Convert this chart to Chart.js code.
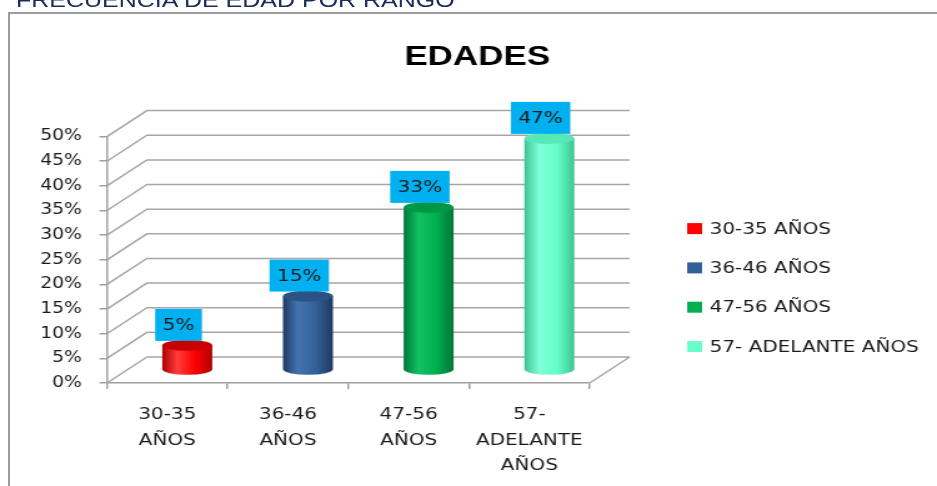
<!DOCTYPE html>
<html lang="es">
<head>
<meta charset="utf-8">
<title>Edades</title>
<script src="https://cdn.jsdelivr.net/npm/chart.js@4.4.1/dist/chart.umd.min.js"></script>
<style>
    html, body { margin: 0; padding: 0; background: #fff; overflow: hidden; }
    body { width: 937px; height: 486px; position: relative; }
    #marco {
        position: absolute; left: 8px; top: 12px; width: 1000px; height: 1000px;
        border-left: 2px solid #9c9c9c; border-top: 2px solid #9c9c9c;
    }
    /* el original esta estirado a lo ancho */
    #lienzo {
        position: absolute; left: 0; top: 0; width: 750px; height: 486px;
        transform: scaleX(1.2493); transform-origin: 0 0;
    }
    #encabezado {
        position: absolute; left: 12.8px; top: -11px; line-height: 20px;
        font: 20px "Liberation Sans", Arial, sans-serif; color: #1f2a5c; white-space: nowrap;
    }
</style>
</head>
<body>
<div id="marco"></div>
<div id="lienzo">
    <div id="encabezado">FRECUENCIA DE EDAD POR RANGO</div>
    <canvas id="grafico"></canvas>
</div>
<script>
// Datos del grafico
const categorias = [['30-35', 'AÑOS'], ['36-46', 'AÑOS'], ['47-56', 'AÑOS'], ['57-', 'ADELANTE', 'AÑOS']];
const series = ['30-35 AÑOS', '36-46 AÑOS', '47-56 AÑOS', '57- ADELANTE AÑOS'];
const porcentajes = [5, 15, 33, 47];
const marcasY = [0, 5, 10, 15, 20, 25, 30, 35, 40, 45, 50];

// colores de cada cilindro
const colores = [
    { base: '#ff0000', brillo: '#ff3c3c', sombra: '#b00000', tapa: '#c80000' },
    { base: '#34609a', brillo: '#4474b0', sombra: '#1d3a62', tapa: '#2b5283' },
    { base: '#00b050', brillo: '#12c262', sombra: '#00773a', tapa: '#009845' },
    { base: '#66ffcc', brillo: '#80ffd8', sombra: '#3fc494', tapa: '#58e8b8' }
];

// desplazamiento de la pared del fondo (efecto 3D)
const PROF_X = 32;
const PROF_Y = -26;
const TEXTO = '#1a1a1a';

Chart.defaults.font.family = '"DejaVu Sans", Verdana, sans-serif';

function cilindro(ctx, cx, yTop, yBot, rx, ry, c) {
    const g = ctx.createLinearGradient(cx - rx, 0, cx + rx, 0);
    g.addColorStop(0, c.sombra);
    g.addColorStop(0.3, c.brillo);
    g.addColorStop(0.65, c.base);
    g.addColorStop(1, c.sombra);
    ctx.fillStyle = g;
    ctx.beginPath();
    ctx.moveTo(cx - rx, yTop);
    ctx.lineTo(cx - rx, yBot);
    ctx.ellipse(cx, yBot, rx, ry, 0, Math.PI, 0, true);
    ctx.lineTo(cx + rx, yTop);
    ctx.closePath();
    ctx.fill();
    // tapa
    ctx.fillStyle = c.tapa;
    ctx.beginPath();
    ctx.ellipse(cx, yTop, rx, ry, 0, 0, Math.PI * 2);
    ctx.fill();
}

const efecto3d = {
    id: 'efecto3d',
    beforeDatasetsDraw(chart) {
        const { ctx, chartArea: a, scales: { y } } = chart;
        ctx.save();

        // paredes: lateral y fondo
        ctx.strokeStyle = '#a6a6a6';
        ctx.lineWidth = 1.5;
        ctx.beginPath();
        y.ticks.forEach(t => {
            const py = y.getPixelForValue(t.value);
            ctx.moveTo(a.left, py);
            ctx.lineTo(a.left + PROF_X, py + PROF_Y);
            ctx.lineTo(a.right + PROF_X, py + PROF_Y);
        });
        const y0 = y.getPixelForValue(0);
        ctx.moveTo(a.right, y0);
        ctx.lineTo(a.right + PROF_X, y0 + PROF_Y);
        ctx.stroke();

        // cilindros a media profundidad
        const etiquetas = [];
        chart.data.datasets.forEach((ds, i) => {
            chart.getDatasetMeta(i).data.forEach((bar, j) => {
                if (ds.data[j] == null) return;
                const rx = bar.width / 2;
                const ry = 5.5;
                const cx = bar.x + PROF_X / 2;
                const yTop = bar.y + PROF_Y / 2;
                const yBot = bar.base + PROF_Y / 2;
                cilindro(ctx, cx, yTop, yBot, rx, ry, colores[i]);
                etiquetas.push({ cx: cx - 7, bottom: yTop - ry + 1, text: ds.data[j] + '%' });
            });
        });

        // etiquetas de datos
        ctx.font = '16px "DejaVu Sans"';
        ctx.textAlign = 'center';
        ctx.textBaseline = 'middle';
        etiquetas.forEach(e => {
            const w = ctx.measureText(e.text).width + 12;
            const h = 32;
            ctx.fillStyle = '#00b0f0';
            ctx.fillRect(e.cx - w / 2, e.bottom - h, w, h);
            ctx.fillStyle = TEXTO;
            ctx.fillText(e.text, e.cx, e.bottom - h / 2 + 1);
        });

        ctx.restore();
        return false;
    },
    afterDraw(chart) {
        // leyenda a la derecha
        const { ctx, chartArea: a } = chart;
        ctx.save();
        ctx.font = '16px "DejaVu Sans"';
        ctx.textAlign = 'left';
        ctx.textBaseline = 'middle';
        chart.data.datasets.forEach((ds, i) => {
            const yy = a.top + 92 + i * 39.3;
            ctx.fillStyle = ds.backgroundColor;
            ctx.fillRect(a.right + 78, yy - 5.5, 12, 11);
            ctx.fillStyle = TEXTO;
            ctx.fillText(ds.label, a.right + 96, yy + 1);
        });
        ctx.restore();
    }
};

const datasets = series.map((nombre, i) => ({
    label: nombre,
    data: categorias.map((_, j) => (j === i ? porcentajes[i] : null)),
    backgroundColor: colores[i].base,
    grouped: false,
    barPercentage: 0.414,
    categoryPercentage: 1
}));

new Chart(document.getElementById('grafico'), {
    type: 'bar',
    data: { labels: categorias, datasets: datasets },
    options: {
        responsive: true,
        maintainAspectRatio: false,
        animation: false,
        layout: { padding: { left: 14, right: 0, top: 0, bottom: 0 } },
        plugins: {
            legend: { display: false },
            tooltip: { enabled: false },
            title: {
                display: true,
                text: 'EDADES',
                color: '#000',
                font: { family: '"Liberation Sans", Arial, sans-serif', size: 28, weight: 'bold', lineHeight: 1.2 },
                padding: { top: 40, bottom: 63 }
            }
        },
        scales: {
            x: {
                offset: true,
                ticks: { color: TEXTO, font: { size: 16, lineHeight: 1.6 }, padding: 13, maxRotation: 0, autoSkip: false },
                grid: { drawOnChartArea: false, offset: true, color: '#a0a0a0', lineWidth: 1.5, tickLength: 6 },
                border: { color: '#a0a0a0', width: 1.5 },
                afterFit(s) { s.height = 103; }
            },
            y: {
                min: 0,
                max: 50,
                afterBuildTicks(s) { s.ticks = marcasY.map(v => ({ value: v })); },
                ticks: { callback: v => v + '%', color: TEXTO, font: { size: 15 }, padding: 14 },
                grid: { drawOnChartArea: false, color: '#a0a0a0', lineWidth: 1.5, tickLength: 6 },
                border: { color: '#a0a0a0', width: 1.5 },
                afterFit(s) { s.width = 71.6; }
            },
            // espacio reservado para la leyenda
            espacio: {
                type: 'linear',
                position: 'right',
                grid: { display: false },
                border: { display: false },
                ticks: { display: false },
                afterFit(s) { s.width = 278; }
            }
        }
    },
    plugins: [efecto3d]
});
</script>
</body>
</html>
